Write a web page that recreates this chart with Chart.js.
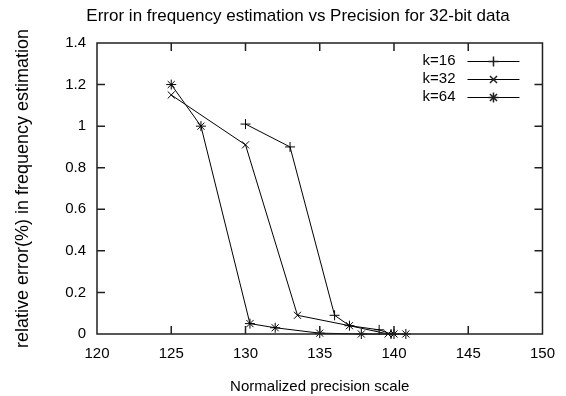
<!DOCTYPE html>
<html>
<head>
<meta charset="utf-8">
<script src="https://cdn.jsdelivr.net/npm/chart.js@4/dist/chart.umd.min.js"></script>
<style>
  html, body { margin: 0; padding: 0; background: #fff; }
  #wrap { width: 566px; height: 396px; }
</style>
</head>
<body>
<div id="wrap"><canvas id="mycanvas" width="566" height="396"></canvas></div>
<script>
// values
var k16X = [130, 133, 136, 137, 139, 139.8];
var k16Y = [1.01, 0.90, 0.09, 0.04, 0.02, 0.0];
var k32X = [125, 130, 133.5, 137, 139.6];
var k32Y = [1.15, 0.91, 0.09, 0.04, 0.0];
var k64X = [125, 127, 130.3, 132, 135, 137.8, 140, 140.8];
var k64Y = [1.2, 1.0, 0.05, 0.03, 0.004, 0.0, 0.0, 0.0];

var xTicks = [120, 125, 130, 135, 140, 145, 150];
var yTicks = [0, 0.2, 0.4, 0.6, 0.8, 1, 1.2, 1.4];

var titleText = "Error in frequency estimation vs Precision for 32-bit data";
var fontFam = "'Liberation Sans', Arial, sans-serif";

function pts(xs, ys) {
    var out = [];
    for (var i in xs) {
        out.push({x: xs[i], y: ys[i]});
    }
    return out;
}

function series(label, xs, ys, style) {
    return {
        label: label,
        data: pts(xs, ys),
        showLine: true,
        borderColor: "#000",
        backgroundColor: "#000",
        borderWidth: 1,
        pointStyle: style,
        pointRadius: 5,
        pointBorderWidth: 1,
        pointBorderColor: "#000",
        tension: 0,
        clip: false
    };
}

function fixTicks(list) {
    return function (s) { s.ticks = list.map(function (v) { return {value: v}; }); };
}

// gnuplot style box with inward ticks, legend inside the plot, title
var frame = {
    id: "frame",
    afterDraw: function (chart) {
        var c = chart.ctx;
        var xs = chart.scales.x, ys = chart.scales.y;
        var L = xs.left, R = xs.right, T = ys.top, B = ys.bottom;
        c.save();
        c.strokeStyle = "#202020";
        c.lineWidth = 1.5;
        c.beginPath();
        c.rect(L, T, R - L, B - T);
        xTicks.forEach(function (v) {
            var px = xs.getPixelForValue(v);
            c.moveTo(px, B); c.lineTo(px, B - 8);
            c.moveTo(px, T); c.lineTo(px, T + 8);
        });
        yTicks.forEach(function (v) {
            var py = ys.getPixelForValue(v);
            c.moveTo(L, py); c.lineTo(L + 8, py);
            c.moveTo(R, py); c.lineTo(R - 8, py);
        });
        c.stroke();

        c.fillStyle = "#000";
        c.font = "15px " + fontFam;
        c.textAlign = "right";
        c.textBaseline = "middle";
        chart.data.datasets.forEach(function (ds, i) {
            var y = Math.round(T + 18 + i * 18);
            c.fillText(ds.label, R - 87, y);
            c.fillRect(R - 75, y, 52, 1);
            Chart.helpers.drawPoint(c, {pointStyle: ds.pointStyle, radius: 5, borderWidth: 1}, R - 49, y + 0.5);
        });
        c.font = "17px " + fontFam;
        c.textAlign = "center";
        c.fillText(titleText, 298, 16);
        c.restore();
    }
};

var ctx = document.getElementById("mycanvas");
var myChart = new Chart(ctx, {
    type: "scatter",
    data: {
        datasets: [
            series("k=16", k16X, k16Y, "cross"),
            series("k=32", k32X, k32Y, "crossRot"),
            series("k=64", k64X, k64Y, "star")
        ]
    },
    options: {
        responsive: false,
        animation: false,
        events: [],
        layout: { padding: { left: 0, right: 16, top: 43, bottom: 0 } },
        plugins: {
            legend: { display: false },
            title: { display: false },
            tooltip: { enabled: false }
        },
        scales: {
            x: {
                type: "linear",
                min: 120, max: 150,
                afterBuildTicks: fixTicks(xTicks),
                afterFit: function (s) { s.height = 62; },
                grid: { display: false, drawTicks: false },
                border: { display: false },
                ticks: { color: "#000", padding: 11, font: { family: fontFam, size: 15 }, maxRotation: 0 },
                title: { display: true, text: "Normalized precision scale", color: "#000",
                         font: { family: fontFam, size: 15 }, padding: { top: 6, bottom: 0 } }
            },
            y: {
                type: "linear",
                min: 0, max: 1.4,
                afterBuildTicks: fixTicks(yTicks),
                afterFit: function (s) { s.width = 97; },
                grid: { display: false, drawTicks: false },
                border: { display: false },
                ticks: { color: "#000", padding: 11, font: { family: fontFam, size: 15 },
                         callback: function (v) { return String(Math.round(v * 10) / 10); } },
                title: { display: true, text: "relative error(%) in frequency estimation", color: "#000",
                         font: { family: fontFam, size: 18 }, padding: { top: 12, bottom: 0 } }
            }
        }
    },
    plugins: [frame]
});
</script>
</body>
</html>
